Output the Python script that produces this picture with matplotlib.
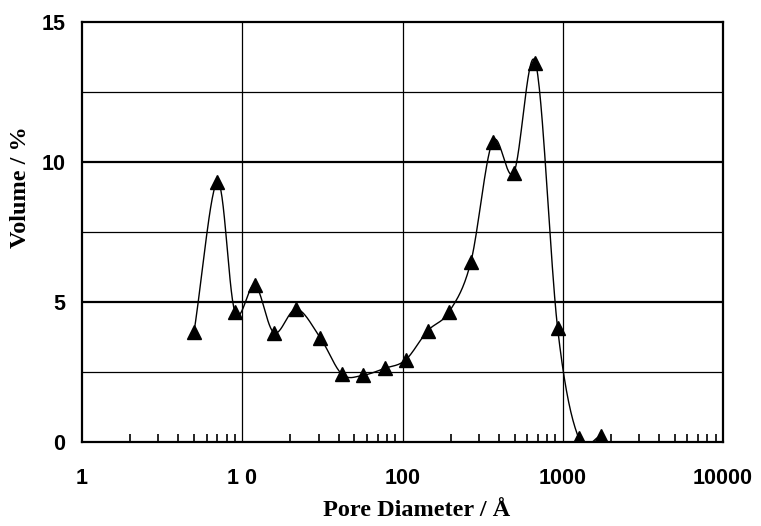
import numpy as np
import matplotlib
matplotlib.use('Agg')
import matplotlib.pyplot as plt
from matplotlib.ticker import LogLocator, NullFormatter, FixedLocator

# pore diameter [A] and volume [%]
diameter = [5.0, 7.0, 9.0, 12.0, 15.8, 21.8, 30.7, 41.9, 56.4, 77.3,
            104.5, 143.5, 195.5, 267.0, 365.0, 495.0, 676.0, 929.0, 1260.0, 1722.0]
volume = [3.93, 9.29, 4.65, 5.60, 3.90, 4.75, 3.72, 2.42, 2.38, 2.63,
          2.93, 3.97, 4.65, 6.43, 10.73, 9.62, 13.55, 4.06, 0.13, 0.20]
x_ticks = [1, 10, 100, 1000, 10000]
x_ticklabels = ['1', '1 0', '100', '1000', '10000']
y_ticks = [0, 5, 10, 15]


def smooth(xs, ys, n=30):
    # catmull-rom through the points (in log-x), like excel's smoothed line
    lx = np.log10(xs)
    ys = np.asarray(ys, float)
    px = np.concatenate([[2 * lx[0] - lx[1]], lx, [2 * lx[-1] - lx[-2]]])
    py = np.concatenate([[2 * ys[0] - ys[1]], ys, [2 * ys[-1] - ys[-2]]])
    out_x, out_y = [], []
    t = np.linspace(0, 1, n)
    for i in range(1, len(px) - 2):
        for p, o in ((px, out_x), (py, out_y)):
            p0, p1, p2, p3 = p[i - 1], p[i], p[i + 1], p[i + 2]
            o.extend(0.5 * ((2 * p1) + (-p0 + p2) * t
                            + (2 * p0 - 5 * p1 + 4 * p2 - p3) * t ** 2
                            + (-p0 + 3 * p1 - 3 * p2 + p3) * t ** 3))
    return 10 ** np.array(out_x), np.array(out_y)


fig = plt.figure(figsize=(7.61, 5.26), dpi=100)
ax = fig.add_axes([82 / 761, 1 - 442 / 526, 641 / 761, 420 / 526])

# grid
for v in [2.5, 7.5, 12.5]:
    ax.axhline(v, color='black', lw=0.9, zorder=1)
for v in [5, 10]:
    ax.axhline(v, color='black', lw=1.6, zorder=1)
for v in [10, 100, 1000]:
    ax.axvline(v, color='black', lw=0.9, zorder=1)

sx, sy = smooth(diameter, volume)
ax.plot(sx, sy, color='black', lw=1.0, zorder=2)
ax.plot(diameter, volume, linestyle='none', marker='^', color='black',
        markersize=10.5, zorder=3)

ax.set_xscale('log')
ax.set_xlim(1, 10000)
ax.set_ylim(0, 15)
ax.xaxis.set_major_locator(FixedLocator(x_ticks))
ax.set_xticklabels(x_ticklabels)
ax.xaxis.set_minor_locator(LogLocator(base=10, subs=np.arange(2, 10)))
ax.xaxis.set_minor_formatter(NullFormatter())
ax.set_yticks(y_ticks)

ax.tick_params(axis='x', which='minor', direction='in', length=6, width=1.2, bottom=True)
ax.tick_params(axis='x', which='major', direction='in', length=0, pad=19)
ax.tick_params(axis='y', which='both', length=0, pad=12)
for lab in ax.get_xticklabels() + ax.get_yticklabels():
    lab.set_fontfamily('Liberation Sans')
    lab.set_fontweight('bold')
    lab.set_fontsize(15.5)

for s in ax.spines.values():
    s.set_linewidth(1.6)

ax.set_xlabel('Pore Diameter / Å', fontfamily='Liberation Serif',
              fontweight='bold', fontsize=17.5)
ax.set_ylabel('Volume / %', fontfamily='Liberation Serif',
              fontweight='bold', fontsize=17.5)
ax.xaxis.set_label_coords(0.522, -0.138)
ax.yaxis.set_label_coords(-0.08, 0.606)

fig.savefig('out.png', dpi=100)
